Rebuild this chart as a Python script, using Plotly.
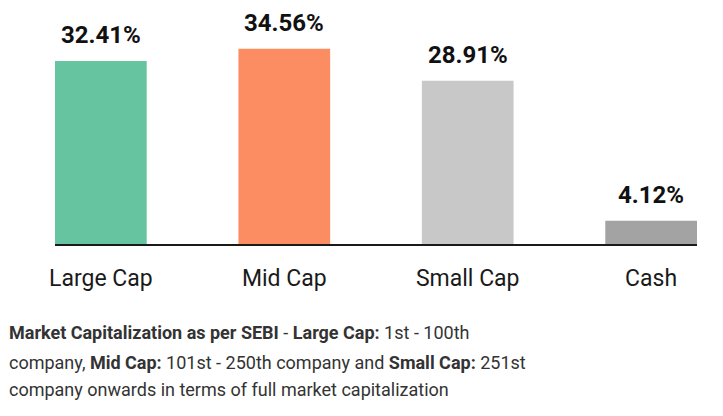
import plotly.graph_objects as go

# allocation by market cap
categories = ["Large Cap", "Mid Cap", "Small Cap", "Cash"]
weights = [32.41, 34.56, 28.91, 4.12]
bar_colors = ["#66c5a0", "#fc8d62", "#c8c8c8", "#a3a3a4"]

note_lines = [
    "<b>Market Capitalization as per SEBI</b> - <b>Large Cap:</b> 1st - 100th",
    "company, <b>Mid Cap:</b> 101st - 250th company and <b>Small Cap:</b> 251st",
    "company onwards in terms of full market capitalization",
]

fig = go.Figure(go.Bar(
    x=categories,
    y=weights,
    marker=dict(color=bar_colors, line=dict(width=0)),
    hoverinfo="skip",
))

# value labels above each bar
for cat, val in zip(categories, weights):
    fig.add_annotation(
        x=cat, y=val, text="<b>%.2f%%</b>" % val,
        showarrow=False, yanchor="bottom", yshift=11, borderpad=0,
        font=dict(family="Roboto", size=24, color="#111111"),
    )

# footnote below the chart
note_y = [-0.39, -0.524, -0.646]
for line, yy in zip(note_lines, note_y):
    fig.add_annotation(
        xref="paper", yref="paper", x=-0.074, y=yy,
        xanchor="left", yanchor="middle", align="left",
        text=line, showarrow=False,
        font=dict(family="Roboto", size=18, color="#333333"),
    )

# page body has an 8px margin, so the figure is a bit smaller
fig.update_layout(
    width=715, height=408,
    margin=dict(l=47, r=26, t=10, b=172),
    plot_bgcolor="white", paper_bgcolor="white",
    bargap=0.5,
    showlegend=False,
    xaxis=dict(
        range=[-0.25, 3.25],
        showline=True, linecolor="#1a1a1a", linewidth=2,
        showgrid=False, zeroline=False,
        ticks="", ticklabelstandoff=12,
        tickfont=dict(family="Roboto", size=23, color="#1a1a1a"),
        fixedrange=True,
    ),
    yaxis=dict(range=[0, 40], visible=False, fixedrange=True),
)

fig.write_html("out.html")
